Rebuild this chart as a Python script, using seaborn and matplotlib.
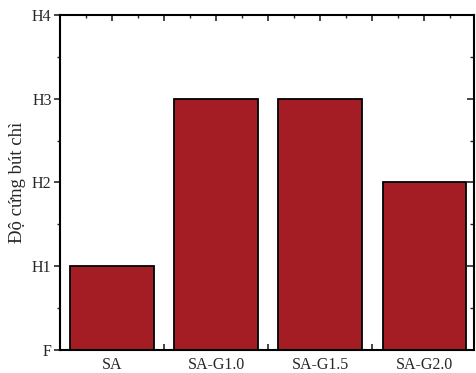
"""
Pencil hardness of SA coatings with different G loadings
"""
import numpy as np
import matplotlib.pyplot as plt
import seaborn as sns
from matplotlib.ticker import MultipleLocator, FixedLocator
from pandas import DataFrame

samples = ['SA', 'SA-G1.0', 'SA-G1.5', 'SA-G2.0']
# hardness on ordinal scale: F=0, H1=1, H2=2, H3=3, H4=4
hardness = [1, 3, 3, 2]
hardness_labels = ['F', 'H1', 'H2', 'H3', 'H4']

df = DataFrame({'sample': samples, 'hardness': hardness})

sns.set_style('ticks')
plt.rcParams['font.family'] = ['Liberation Serif', 'DejaVu Serif']

fig = plt.figure(figsize=(4.76, 3.73), dpi=100)
ax = fig.add_axes([0.126, 0.062, 0.87, 0.898])
sns.barplot(x='sample', y='hardness', data=df, ax=ax, color='#a41d24',
            saturation=1, width=0.8, edgecolor='black', linewidth=1.3)

ax.set_xlim(-0.5, 3.48)
ax.set_ylim(0, 4)
ax.set_yticks(range(5))
ax.set_yticklabels(hardness_labels, fontsize=11.5)
ax.yaxis.set_minor_locator(MultipleLocator(0.5))
ax.tick_params(axis='x', labelsize=11.5, length=0, pad=5)
ax.tick_params(axis='y', which='major', direction='out', length=4, width=1.2,
               pad=2)
ax.tick_params(axis='y', which='minor', direction='out', length=2, width=1)

# secondary axes for inward ticks on the top and right / between bars
top = ax.secondary_xaxis('top')
top.xaxis.set_major_locator(FixedLocator(np.arange(-0.5, 3.6, 0.5)))
top.xaxis.set_minor_locator(FixedLocator(np.arange(-0.25, 3.5, 0.5)))
top.tick_params(which='major', direction='in', length=4, width=1.2,
                labeltop=False)
top.tick_params(which='minor', direction='in', length=2, width=1)
top.spines['top'].set_visible(False)

bot = ax.secondary_xaxis('bottom')
bot.xaxis.set_major_locator(FixedLocator([0.5, 1.5, 2.5]))
bot.tick_params(direction='in', length=4, width=1.2, labelbottom=False)
bot.spines['bottom'].set_visible(False)

right = ax.secondary_yaxis('right')
right.yaxis.set_major_locator(FixedLocator(range(5)))
right.yaxis.set_minor_locator(MultipleLocator(0.5))
right.tick_params(which='major', direction='in', length=5, width=1.2,
                  labelright=False)
right.tick_params(which='minor', direction='in', length=3, width=1)
right.spines['right'].set_visible(False)
ax.tick_params(axis='y', right=False, which='both')

for side in ['left', 'right', 'top', 'bottom']:
    ax.spines[side].set_visible(True)
    ax.spines[side].set_linewidth(1.5)
    ax.spines[side].set_color('black')

ax.set_xlabel('')
ax.set_ylabel('Độ cứng bút chì', fontsize=13.5, labelpad=4)

fig.savefig('out.png', dpi=100)
